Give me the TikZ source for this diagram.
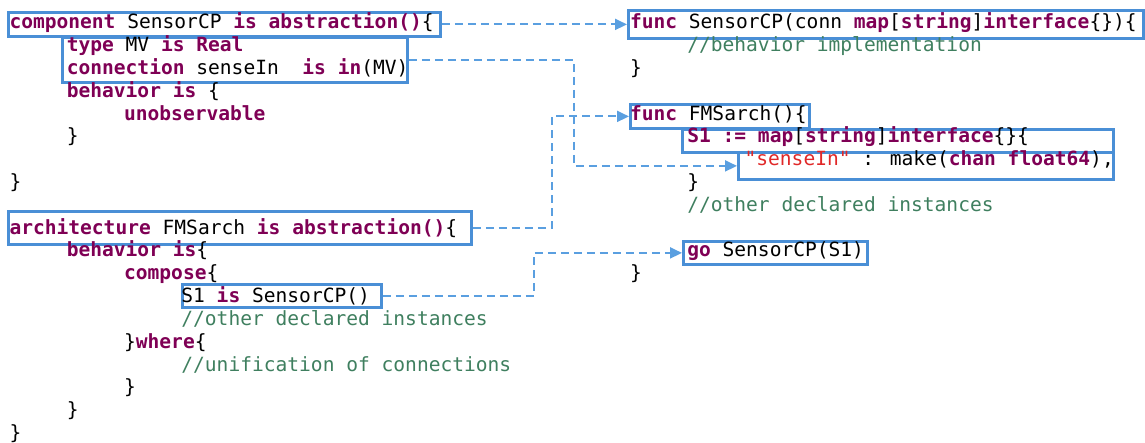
\documentclass[tikz,border=0pt]{standalone}
\usepackage{fontspec}
\usetikzlibrary{arrows.meta}
\newfontfamily\codefont{DejaVu Sans Mono}
\definecolor{kwc}{HTML}{7F0055}
\definecolor{cmc}{HTML}{3F7F5F}
\definecolor{stc}{HTML}{E02828}
\definecolor{boxc}{HTML}{4A8FD6}
\definecolor{linkc}{HTML}{5A9FE0}
\newcommand\kwd[1]{{\bfseries\color{kwc}#1}}
\newcommand\cmt[1]{{\color{cmc}#1}}
\newcommand\strl[1]{{\color{stc}#1}}
\begin{document}
\begin{tikzpicture}[x=1pt,y=-1pt,
  code/.style={anchor=base west,inner sep=0pt,outer sep=0pt,
    font=\codefont\fontsize{19.57}{22.8}\selectfont},
  hl/.style={draw=boxc,line width=2.8pt,rectangle,inner sep=0pt,anchor=north west},
  link/.style={draw=linkc,line width=2pt,dash pattern=on 8pt off 5pt,
    -{Triangle[length=12pt,width=11pt]}}]
\useasboundingbox (0,0) rectangle (1145,443);
% column starts and line baselines
\def\ca{9.5}\def\cb{66.8}\def\cc{124.1}\def\cd{181.4}
\def\ra{630}\def\rb{687.3}\def\rc{744.6}
\newcommand\bl[1]{\fpeval{29+22.8*(#1-1)}}
% ---- highlight boxes
\node[hl,minimum width=432pt,minimum height=24pt] (b1) at (7,11) {};
\node[hl,minimum width=345pt,minimum height=45pt] (b2) at (61,36) {};
\node[hl,minimum width=463pt,minimum height=33pt] (b3) at (7,210) {};
\node[hl,minimum width=199pt,minimum height=23pt] (b4) at (181,283) {};
\node[hl,minimum width=515pt,minimum height=28pt] (r1) at (627,9) {};
\node[hl,minimum width=179pt,minimum height=24pt] (r2) at (629,103) {};
\node[hl,minimum width=431pt,minimum height=23pt] (r3) at (681,128) {};
\node[hl,minimum width=375pt,minimum height=27pt] (r4) at (737,151) {};
\node[hl,minimum width=184pt,minimum height=23pt] (r5) at (682,240) {};
% ---- left listing
\node[code] (l1) at (\ca,\bl{1}) {\kwd{component} SensorCP \kwd{is} \kwd{abstraction()}\{};
\node[code] (l2) at (\cb,\bl{2}) {\kwd{type} MV \kwd{is} \kwd{Real}};
\node[code] (l3) at (\cb,\bl{3}) {\kwd{connection} senseIn\ \ \kwd{is} \kwd{in}(MV)};
\node[code] (l4) at (\cb,\bl{4}) {\kwd{behavior} \kwd{is} \{};
\node[code] (l5) at (\cc,\bl{5}) {\kwd{unobservable}};
\node[code] (l6) at (\cb,\bl{6}) {\}};
\node[code] (l8) at (\ca,\bl{8}) {\}};
\node[code] (l10) at (\ca,\bl{10}) {\kwd{architecture} FMSarch \kwd{is} \kwd{abstraction()}\{};
\node[code] (l11) at (\cb,\bl{11}) {\kwd{behavior} \kwd{is}\{};
\node[code] (l12) at (\cc,\bl{12}) {\kwd{compose}\{};
\node[code] (l13) at (\cd,\bl{13}) {S1 \kwd{is} SensorCP()};
\node[code] (l14) at (\cd,\bl{14}) {\cmt{//other declared instances}};
\node[code] (l15) at (\cc,\bl{15}) {\}\kwd{where}\{};
\node[code] (l16) at (\cd,\bl{16}) {\cmt{//unification of connections}};
\node[code] (l17) at (\cc,\bl{17}) {\}};
\node[code] (l18) at (\cb,\bl{18}) {\}};
\node[code] (l19) at (\ca,\bl{19}) {\}};
% ---- right listing
\node[code] (g1) at (\ra,\bl{1}) {\kwd{func} SensorCP(conn \kwd{map}[\kwd{string}]\kwd{interface}\{\})\{};
\node[code] (g2) at (\rb,\bl{2}) {\cmt{//behavior implementation}};
\node[code] (g3) at (\ra,\bl{3}) {\}};
\node[code] (g5) at (\ra,\bl{5}) {\kwd{func} FMSarch()\{};
\node[code] (g6) at (\rb,\bl{6}) {\kwd{S1 := map}[\kwd{string}]\kwd{interface}\{\}\{};
\node[code] (g7) at (\rc,\bl{7}) {\strl{"senseIn"} : make(\kwd{chan float64}),};
\node[code] (g8) at (\rb,\bl{8}) {\}};
\node[code] (g9) at (\rb,\bl{9}) {\cmt{//other declared instances}};
\node[code] (g11) at (\rb,\bl{11}) {\kwd{go} SensorCP(S1)};
\node[code] (g12) at (\ra,\bl{12}) {\}};
% ---- mapping connectors
\draw[link] (b1.east) -- (r1.west);
\draw[link] (b2.east) -- ++(165,0) |- (r4.west);
\draw[link] (b3.east) -- ++(79,0) |- (r2.west);
\draw[link] (b4.east) -- ++(151,0) |- (r5.west);
\end{tikzpicture}
\end{document}
